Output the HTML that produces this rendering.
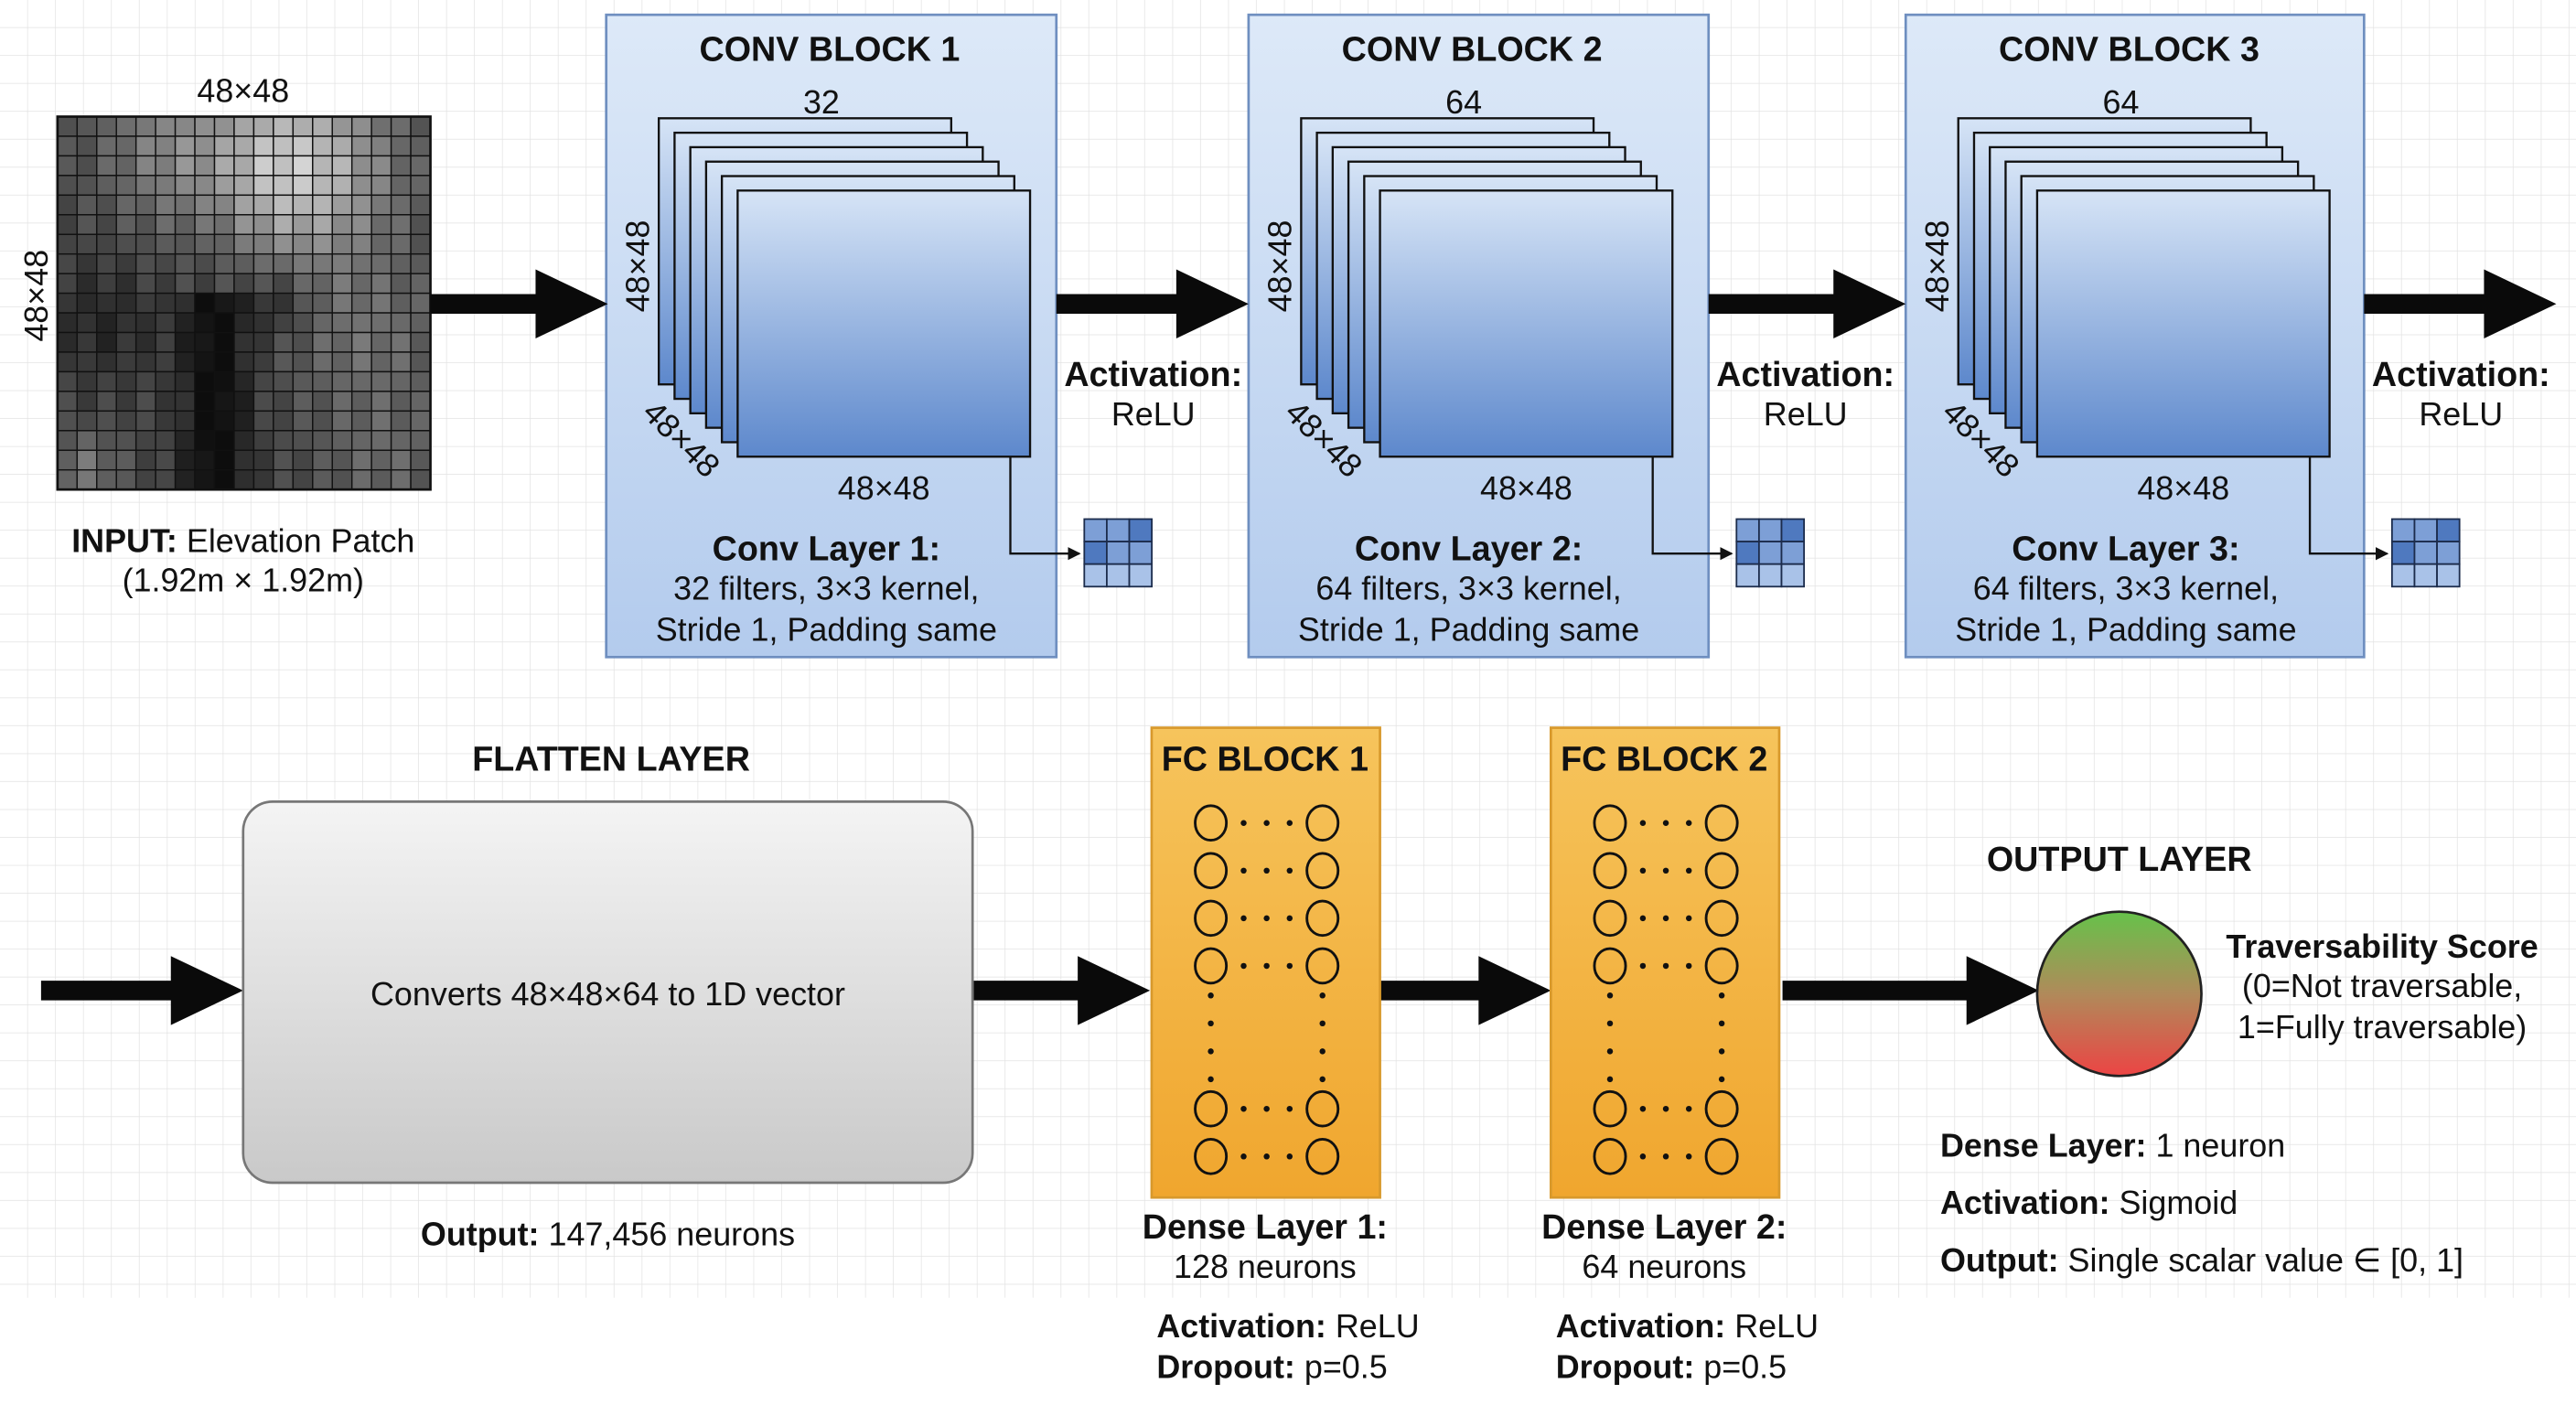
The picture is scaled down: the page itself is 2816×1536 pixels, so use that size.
<!DOCTYPE html>
<html><head><meta charset="utf-8"><style>
html,body{margin:0;padding:0;background:#fff}
svg{display:block}
text{font-family:"Liberation Sans",sans-serif;fill:#111}
.b{font-weight:bold}
</style></head><body>
<svg id="s" width="2816" height="1536" viewBox="0 0 1568 855.3" preserveAspectRatio="none" xmlns="http://www.w3.org/2000/svg">
<defs>
<pattern id="g" width="17" height="17" patternUnits="userSpaceOnUse"><path d="M17 0V17H0" fill="none" stroke="#e2e2e2" stroke-width="0.8"/></pattern>
<linearGradient id="blk" x1="0" y1="0" x2="0" y2="1"><stop offset="0" stop-color="#dde9f8"/><stop offset="1" stop-color="#b3cbed"/></linearGradient>
<linearGradient id="lay" x1="0" y1="0" x2="0" y2="1"><stop offset="0" stop-color="#d6e4f6"/><stop offset="1" stop-color="#5d88cc"/></linearGradient>
<linearGradient id="fl" x1="0" y1="0" x2="0" y2="1"><stop offset="0" stop-color="#f4f4f4"/><stop offset="1" stop-color="#c9c9c9"/></linearGradient>
<linearGradient id="fc" x1="0" y1="0" x2="0" y2="1"><stop offset="0" stop-color="#f6c45c"/><stop offset="1" stop-color="#f0a62e"/></linearGradient>
<linearGradient id="out" x1="0" y1="0" x2="0" y2="1"><stop offset="0" stop-color="#66c24a"/><stop offset="0.5" stop-color="#b08a5a"/><stop offset="1" stop-color="#ec4444"/></linearGradient>
<marker id="ah" markerWidth="8" markerHeight="8" refX="7" refY="4" orient="auto" markerUnits="userSpaceOnUse"><path d="M0,0L8,4L0,8z" fill="#111"/></marker>
</defs>
<rect width="1568" height="790" fill="url(#g)"/>
<g id="inp"></g>
<text x="148" y="62" font-size="20" text-anchor="middle">48×48</text>
<text x="0" y="0" font-size="20" text-anchor="middle" transform="translate(29,180) rotate(-90)">48×48</text>
<text x="148" y="336" font-size="20" text-anchor="middle"><tspan class="b">INPUT:</tspan> Elevation Patch</text>
<text x="148" y="360" font-size="20" text-anchor="middle">(1.92m × 1.92m)</text>
<g id="blocks"></g>
<g id="arrows"></g>
<text x="372" y="469" font-size="21" class="b" text-anchor="middle">FLATTEN LAYER</text>
<rect x="148" y="488" width="444" height="232" rx="18" fill="url(#fl)" stroke="#777" stroke-width="1.5"/>
<text x="370" y="612" font-size="20" text-anchor="middle">Converts 48×48×64 to 1D vector</text>
<text x="370" y="758" font-size="20" text-anchor="middle"><tspan class="b">Output:</tspan> 147,456 neurons</text>
<g id="fcs"></g>
<text x="1290" y="530" font-size="21" class="b" text-anchor="middle">OUTPUT LAYER</text>
<circle cx="1290" cy="605" r="50" fill="url(#out)" stroke="#222" stroke-width="1.5"/>
<text x="1450" y="583" font-size="20" class="b" text-anchor="middle">Traversability Score</text>
<text x="1450" y="607" font-size="20" text-anchor="middle">(0=Not traversable,</text>
<text x="1450" y="632" font-size="20" text-anchor="middle">1=Fully traversable)</text>
<text x="1181" y="704" font-size="20"><tspan class="b">Dense Layer:</tspan> 1 neuron</text>
<text x="1181" y="739" font-size="20"><tspan class="b">Activation:</tspan> Sigmoid</text>
<text x="1181" y="774" font-size="20"><tspan class="b">Output:</tspan> Single scalar value ∈ [0, 1]</text>
</svg>
<script>
var NS="http://www.w3.org/2000/svg";
function el(p,t,a,txt){var e=document.createElementNS(NS,t);for(var k in a)e.setAttribute(k,a[k]);if(txt!=null)e.textContent=txt;p.appendChild(e);return e;}
var inp=document.getElementById('inp');var n=19,x0=35,y0=71,cs=227/19;
function gs(u,v,cx,cy,s){return Math.exp(-((u-cx)*(u-cx)+(v-cy)*(v-cy))/s);}
for(var i=0;i<n;i++)for(var j=0;j<n;j++){
 var u=j/(n-1),v=i/(n-1);
 var val=0.28+0.5*gs(u,v,0.65,0.12,0.07)+0.2*gs(u,v,0.3,0.05,0.05)+0.15*gs(u,v,0.85,0.6,0.05);
 var cxv=0.42+0.25*(0.6-v)*(v<0.6?1:0);
 val-=0.25*Math.exp(-Math.pow(u-0.42,2)/0.01)*(v>0.45?1:0.2);
 val-=0.15*gs(u,v,0.6,0.5,0.01);
 val-=0.12*gs(u,v,0.1,0.55,0.03);
 val+=0.18*gs(u,v,0.05,0.97,0.01)+0.12*gs(u,v,0.9,0.95,0.03);
 val+=0.04*Math.sin(i*7.3+j*3.1);
 val=Math.max(0.05,Math.min(0.85,val));var c=Math.round(val*255);
 el(inp,'rect',{x:x0+j*cs,y:y0+i*cs,width:cs,height:cs,fill:'rgb('+c+','+c+','+c+')',stroke:'#111','stroke-width':0.8});
}
el(inp,'rect',{x:35,y:71,width:227,height:227,fill:'none',stroke:'#111','stroke-width':1.5});
var B=document.getElementById('blocks');
var info=[[0,'1','32','32',274],[391,'2','64','64',280],[791,'3','64','64',279]];
info.forEach(function(f){var dx=f[0];var w=f[4];var g=el(B,'g',{transform:'translate('+dx+',0)'});
 el(g,'rect',{x:369,y:9,width:w,height:391,fill:'url(#blk)',stroke:'#6f8fc0','stroke-width':1.5});
 el(g,'text',{x:505,y:37,'font-size':21,'class':'b','text-anchor':'middle'},'CONV BLOCK '+f[1]);
 el(g,'text',{x:500,y:69,'font-size':20,'text-anchor':'middle'},f[2]);
 for(var k=0;k<6;k++){el(g,'rect',{x:401+k*9.6,y:72+k*8.8,width:178,height:162,fill:'url(#lay)',stroke:'#111','stroke-width':1.3});}
 el(g,'text',{'font-size':20,'text-anchor':'middle',transform:'translate(395,162) rotate(-90)'},'48×48');
 el(g,'text',{'font-size':20,'text-anchor':'middle',transform:'translate(410,272) rotate(45)'},'48×48');
 el(g,'text',{x:538,y:304,'font-size':20,'text-anchor':'middle'},'48×48');
 var gx=w-274;
 el(g,'path',{d:'M615,278V337H'+(657+gx),fill:'none',stroke:'#111','stroke-width':1.3,'marker-end':'url(#ah)'});
 for(var a=0;a<3;a++)for(var b=0;b<3;b++)el(g,'rect',{x:660+gx+b*13.7,y:316+a*13.7,width:13.7,height:13.7,fill:(a==0&&b==2)||(a==1&&b==0)?'#4f79bf':(a<2?'#7d9fd6':'#a9c2e8'),stroke:'#1c2c4c','stroke-width':1});
 el(g,'text',{x:503,y:341,'font-size':21,'class':'b','text-anchor':'middle'},'Conv Layer '+f[1]+':');
 el(g,'text',{x:503,y:365,'font-size':20,'text-anchor':'middle'},f[3]+' filters, 3×3 kernel,');
 el(g,'text',{x:503,y:390,'font-size':20,'text-anchor':'middle'},'Stride 1, Padding same');
 el(g,'text',{x:702+gx,y:235,'font-size':21,'class':'b','text-anchor':'middle'},'Activation:');
 el(g,'text',{x:702+gx,y:259,'font-size':20,'text-anchor':'middle'},'ReLU');
});
var A=document.getElementById('arrows');
function arrow(x1,x2,y){el(A,'path',{d:'M'+x1+','+(y-6)+'H'+(x2-44)+'V'+(y-21)+'L'+x2+','+y+'L'+(x2-44)+','+(y+21)+'V'+(y+6)+'H'+x1+'Z',fill:'#0a0a0a'});}
arrow(262,370,185);arrow(643,760,185);arrow(1040,1160,185);arrow(1439,1556,185);
arrow(25,148,603);arrow(592,700,603);arrow(840,944,603);arrow(1085,1241,603);
var F=document.getElementById('fcs');
[[701,'1','128 neurons'],[944,'2','64 neurons']].forEach(function(f){var x=f[0];
 el(F,'rect',{x:x,y:443,width:139,height:286,fill:'url(#fc)',stroke:'#d8992c','stroke-width':1.5});
 el(F,'text',{x:x+69,y:469,'font-size':21,'class':'b','text-anchor':'middle'},'FC BLOCK '+f[1]);
 var cl=x+36,cr=x+104;
 [501,530,559,588,675,704].forEach(function(y){
  el(F,'ellipse',{cx:cl,cy:y,rx:9.5,ry:10.5,fill:'none',stroke:'#111','stroke-width':1.6});
  el(F,'ellipse',{cx:cr,cy:y,rx:9.5,ry:10.5,fill:'none',stroke:'#111','stroke-width':1.6});
  [cl+20,cl+34,cl+48].forEach(function(d){el(F,'circle',{cx:d,cy:y,r:1.8,fill:'#111'});});
 });
 [606,623,640,657].forEach(function(y){el(F,'circle',{cx:cl,cy:y,r:1.8,fill:'#111'});el(F,'circle',{cx:cr,cy:y,r:1.8,fill:'#111'});});
 el(F,'text',{x:x+69,y:754,'font-size':21,'class':'b','text-anchor':'middle'},'Dense Layer '+f[1]+':');
 el(F,'text',{x:x+69,y:778,'font-size':20,'text-anchor':'middle'},f[2]);
 var t=el(F,'text',{x:x+3,y:814,'font-size':20});el(t,'tspan',{'class':'b'},'Activation:');el(t,'tspan',{},' ReLU');
 t=el(F,'text',{x:x+3,y:839,'font-size':20});el(t,'tspan',{'class':'b'},'Dropout:');el(t,'tspan',{},' p=0.5');
});
</script>
</body></html>
